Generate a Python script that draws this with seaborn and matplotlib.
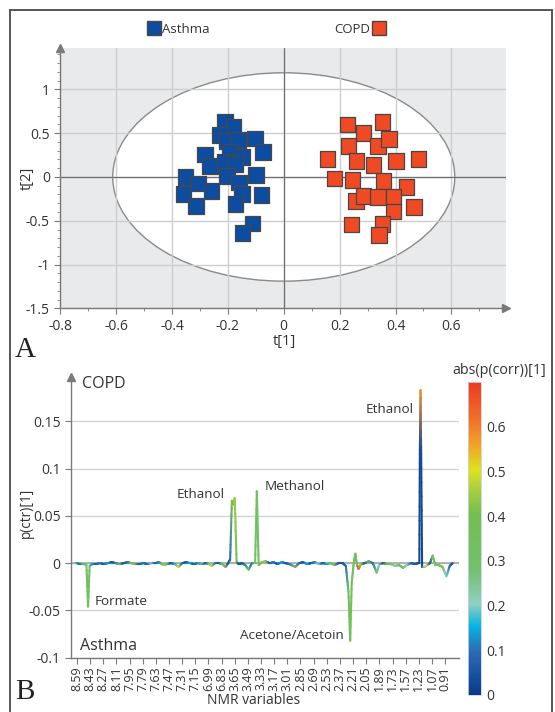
# =========================================
# OPLS-DA SCORES + LOADINGS (ASTHMA vs COPD)
# =========================================

import numpy as np
import pandas as pd
import seaborn as sns
import matplotlib.pyplot as plt
from matplotlib.patches import Ellipse, Rectangle
from matplotlib.collections import LineCollection
from matplotlib.colors import LinearSegmentedColormap, Normalize, to_rgba
from matplotlib.lines import Line2D
from matplotlib.ticker import MultipleLocator, FuncFormatter


# =========================================
# DATA - SCORES PLOT (A)
# =========================================

asthma_t1 = [-0.210, -0.180, -0.228, -0.204, -0.163, -0.103, -0.075, -0.282, -0.192,
             -0.147, -0.264, -0.210, -0.172, -0.204, -0.351, -0.100, -0.306, -0.160,
             -0.258, -0.359, -0.150, -0.079, -0.314, -0.172, -0.111, -0.147]
asthma_t2 = [0.636, 0.573, 0.477, 0.409, 0.420, 0.440, 0.288, 0.257, 0.288,
             0.231, 0.123, 0.174, 0.146, 0.014, 0.002, 0.021, -0.074, -0.063,
             -0.162, -0.196, -0.196, -0.208, -0.329, -0.311, -0.531, -0.637]

copd_t1 = [0.228, 0.353, 0.285, 0.231, 0.337, 0.377, 0.156, 0.261, 0.321, 0.401,
           0.482, 0.181, 0.246, 0.357, 0.440, 0.259, 0.285, 0.337, 0.392, 0.392,
           0.467, 0.243, 0.354, 0.341]
copd_t2 = [0.599, 0.630, 0.505, 0.356, 0.352, 0.432, 0.203, 0.180, 0.135, 0.180,
           0.203, -0.017, -0.036, -0.048, -0.112, -0.276, -0.215, -0.226, -0.226,
           -0.397, -0.340, -0.542, -0.539, -0.664]

# Hotelling T2 ellipse semi axes
t2_ellipse_t1 = 0.612
t2_ellipse_t2 = 1.19


# =========================================
# DATA - LOADINGS PLOT (B)
# =========================================

nmr_ticks = ["8.59", "8.43", "8.27", "8.11", "7.95", "7.79", "7.63", "7.47", "7.31",
             "7.15", "6.99", "6.83", "3.65", "3.49", "3.33", "3.17", "3.01", "2.85",
             "2.69", "2.53", "2.37", "2.21", "2.05", "1.89", "1.73", "1.57", "1.23",
             "1.07", "0.91"]

# position along the variable axis (in units of tick spacing)
nmr_pos = [-0.05, 0.25, 0.55, 0.72, 0.84, 0.96, 1.15, 1.45, 1.75, 2.05,
           2.35, 2.65, 2.95, 3.25, 3.55, 3.85, 4.15, 4.45, 4.75, 5.05,
           5.35, 5.65, 5.95, 6.25, 6.55, 6.85, 7.15, 7.45, 7.73, 8.0,
           8.3, 8.6, 8.9, 9.2, 9.5, 9.8, 10.05, 10.27, 10.5, 10.8,
           11.05, 11.3, 11.5, 11.65, 11.78, 11.9, 12.0, 12.14, 12.3, 12.55,
           12.8, 13.05, 13.3, 13.55, 13.68, 13.82, 14.05, 14.35, 14.65, 14.95,
           15.25, 15.55, 15.85, 16.15, 16.6, 16.9, 17.2, 17.5, 17.8, 18.1,
           18.4, 18.7, 19.0, 19.3, 19.6, 19.9, 20.2, 20.45, 20.65, 20.78,
           20.9, 21.05, 21.17, 21.3, 21.42, 21.6, 21.9, 22.2, 22.5, 22.8,
           23.0, 23.3, 23.6, 23.9, 24.2, 24.5, 24.8, 25.1, 25.4, 25.7,
           25.95, 26.04, 26.08, 26.13, 26.18, 26.25, 26.45, 26.65, 26.85, 27.05,
           27.25, 27.5, 27.8, 28.1, 28.35, 28.57]

p_ctr = [0.000, -0.001, -0.001, -0.002, -0.046, -0.003, -0.001, -0.001, 0.000, -0.001,
         0.000, 0.001, 0.000, -0.001, 0.000, 0.001, 0.000, -0.001, -0.001, 0.000,
         -0.001, 0.000, 0.000, 0.001, -0.002, -0.001, 0.000, -0.001, -0.004, 0.000,
         0.001, 0.000, -0.001, 0.000, -0.001, 0.000, -0.001, -0.003, 0.000, 0.000,
         -0.001, -0.004, 0.000, 0.004, 0.066, 0.062, 0.069, 0.001, -0.001, 0.000,
         -0.002, -0.007, 0.000, 0.000, 0.076, -0.002, 0.001, 0.002, 0.000, 0.001,
         -0.001, 0.001, 0.000, -0.001, -0.004, 0.000, 0.001, -0.001, 0.000, 0.001,
         -0.001, 0.000, -0.001, 0.000, -0.002, 0.000, 0.000, -0.003, -0.030, -0.082,
         -0.020, 0.000, 0.010, -0.002, -0.006, -0.001, 0.000, 0.002, 0.000, -0.010,
         -0.001, 0.000, -0.001, -0.001, -0.003, -0.002, -0.005, -0.002, 0.000, -0.001,
         0.000, 0.000, 0.120, 0.183, 0.115, -0.004, -0.004, -0.002, 0.000, 0.008,
         -0.002, -0.002, -0.004, -0.014, -0.003, 0.000]

p_corr = [0.15, 0.10, 0.30, 0.30, 0.35, 0.30, 0.15, 0.05, 0.12, 0.05,
          0.15, 0.05, 0.10, 0.30, 0.05, 0.10, 0.30, 0.35, 0.05, 0.12,
          0.05, 0.20, 0.05, 0.12, 0.45, 0.30, 0.05, 0.15, 0.50, 0.10,
          0.05, 0.15, 0.05, 0.12, 0.30, 0.05, 0.30, 0.50, 0.12, 0.05,
          0.30, 0.35, 0.05, 0.10, 0.38, 0.40, 0.45, 0.35, 0.05, 0.05,
          0.12, 0.30, 0.10, 0.30, 0.32, 0.30, 0.30, 0.45, 0.05, 0.12,
          0.05, 0.15, 0.05, 0.10, 0.35, 0.10, 0.05, 0.15, 0.05, 0.12,
          0.20, 0.05, 0.15, 0.35, 0.30, 0.05, 0.05, 0.10, 0.35, 0.35,
          0.35, 0.35, 0.33, 0.35, 0.65, 0.45, 0.05, 0.40, 0.10, 0.30,
          0.20, 0.05, 0.40, 0.35, 0.20, 0.30, 0.35, 0.20, 0.10, 0.05,
          0.05, 0.03, 0.03, 0.58, 0.03, 0.03, 0.20, 0.50, 0.05, 0.35,
          0.30, 0.35, 0.35, 0.20, 0.10, 0.05]

peak_names = ["Formate", "Ethanol", "Methanol", "Acetone/Acetoin", "Ethanol"]
peak_label_x = [1.32, 11.2, 14.25, 20.26, 25.6]
peak_label_y = [-0.041, 0.073, 0.081, -0.077, 0.163]
peak_label_ha = ["left", "right", "left", "right", "right"]


# =========================================
# STYLE
# =========================================

sns.set_style("white")
plt.rcParams['font.family'] = ['Open Sans', 'DejaVu Sans']
plt.rcParams['axes.unicode_minus'] = False

TXT = "#333333"
AX_GRAY = "#7a7a7a"

fig = plt.figure(figsize=(5.55, 7.12), dpi=100)

# outer frame
fig.patches.append(Rectangle((10 / 555, -0.05), 542 / 555, 1.036,
                             transform=fig.transFigure, fill=False,
                             edgecolor="#555555", linewidth=1.4))

fmt = FuncFormatter(lambda v, p: f"{v:g}")


# =========================================
# PANEL A - SCORES
# =========================================

ax1 = fig.add_axes([0.1085, 0.567, 0.803, 0.3652])
ax1.set_facecolor("#e9eaec")

scores = pd.DataFrame({
    "t1": asthma_t1 + copd_t1,
    "t2": asthma_t2 + copd_t2,
    "group": ["Asthma"] * len(asthma_t1) + ["COPD"] * len(copd_t1),
})
palette = {"Asthma": "#0c4da2", "COPD": "#ef4a23"}

ax1.add_patch(Ellipse((0, 0), 2 * t2_ellipse_t1, 2 * t2_ellipse_t2,
                      facecolor="white", edgecolor="#8a8a8a",
                      linewidth=1.0, zorder=0.2))

ax1.set_axisbelow(True)
ax1.grid(True, color="#cdced0", linewidth=1.0)
ax1.axhline(0, color="#6f6f6f", linewidth=0.9, zorder=0.6)
ax1.axvline(0, color="#6f6f6f", linewidth=0.9, zorder=0.6)

sns.scatterplot(
    data=scores, x="t1", y="t2", hue="group", palette=palette,
    marker="s", s=125, edgecolor="#474747", linewidth=0.9,
    legend=False, ax=ax1, zorder=3
)

ax1.set_xlim(-0.8, 0.795)
ax1.set_ylim(-1.5, 1.47)
ax1.xaxis.set_major_locator(MultipleLocator(0.2))
ax1.xaxis.set_minor_locator(MultipleLocator(0.1))
ax1.yaxis.set_major_locator(MultipleLocator(0.5))
ax1.yaxis.set_minor_locator(MultipleLocator(0.1))
ax1.xaxis.set_major_formatter(fmt)
ax1.yaxis.set_major_formatter(fmt)
ax1.set_xticks([-0.8, -0.6, -0.4, -0.2, 0, 0.2, 0.4, 0.6])
ax1.tick_params(axis="both", which="major", labelsize=10, colors=AX_GRAY,
                labelcolor=TXT, length=4, width=0.8, direction="out")
ax1.tick_params(axis="both", which="minor", colors=AX_GRAY, length=2.5, width=0.6)
ax1.tick_params(axis="x", bottom=True, which="both")
ax1.tick_params(axis="y", left=True, which="both")

for side in ["top", "right"]:
    ax1.spines[side].set_visible(False)
for side in ["left", "bottom"]:
    ax1.spines[side].set_color(AX_GRAY)
    ax1.spines[side].set_linewidth(1.0)
ax1.plot(1, 0, ">", color=AX_GRAY, markersize=6, transform=ax1.transAxes, clip_on=False)
ax1.plot(0, 1, "^", color=AX_GRAY, markersize=6, transform=ax1.transAxes, clip_on=False)

ax1.set_xlabel("t[1]", fontsize=10.5, color=TXT)
ax1.set_ylabel("t[2]", fontsize=10.5, color=TXT)
ax1.xaxis.set_label_coords(0.503, -0.128)
ax1.xaxis.label.set_va("center")
ax1.yaxis.set_label_coords(-0.0745, 0.5)
ax1.yaxis.label.set_va("center")

# legend: Asthma square before text, COPD square after text
leg1 = ax1.legend(handles=[Line2D([], [], marker="s", linestyle="", markersize=10,
                                  color=palette["Asthma"], markeredgecolor="#474747")],
                  labels=["Asthma"], loc="center", bbox_to_anchor=(0.322, 0.9586),
                  bbox_transform=fig.transFigure, frameon=False, fontsize=9.5,
                  handlelength=0.9, handletextpad=0.2, labelcolor=TXT)
ax1.add_artist(leg1)
ax1.legend(handles=[Line2D([], [], marker="s", linestyle="", markersize=10,
                           color=palette["COPD"], markeredgecolor="#474747")],
           labels=["COPD"], loc="center", bbox_to_anchor=(0.648, 0.9586),
           bbox_transform=fig.transFigure, frameon=False, fontsize=9.5,
           handlelength=0.9, handletextpad=0.2, markerfirst=False, labelcolor=TXT)

fig.text(0.027, 0.508, "A", family="Liberation Serif", fontsize=21,
         color="#222222", va="center", ha="left")


# =========================================
# PANEL B - LOADINGS
# =========================================

ax2 = fig.add_axes([0.1276, 0.0763, 0.6995, 0.3944])

corr_cmap = LinearSegmentedColormap.from_list("pcorr", [
    (0.0, "#0a3a8a"), (0.14, "#2c6db6"), (0.22, "#05b5e4"), (0.29, "#8fd0c2"),
    (0.40, "#72c06c"), (0.58, "#74bf4e"), (0.66, "#a9d13c"), (0.72, "#dde21f"),
    (0.80, "#f3a226"), (0.88, "#f07228"), (1.0, "#ee3a1f")])
norm = Normalize(vmin=0, vmax=0.7)

pts = np.column_stack([nmr_pos, p_ctr])
pt_cols = np.array([to_rgba(corr_cmap(norm(c))) for c in p_corr])
n_sub = 8
segs, seg_cols = [], []
for i in range(len(pts) - 1):
    for k in range(n_sub):
        a, b = k / n_sub, (k + 1) / n_sub
        segs.append([pts[i] * (1 - a) + pts[i + 1] * a, pts[i] * (1 - b) + pts[i + 1] * b])
        m = (a + b) / 2
        seg_cols.append(pt_cols[i] * (1 - m) + pt_cols[i + 1] * m)
lc = LineCollection(segs, colors=seg_cols, linewidths=1.5,
                    capstyle="round", joinstyle="round", zorder=3)
ax2.add_collection(lc)

ax2.set_xlim(-0.47, 29.06)
ax2.set_ylim(-0.1, 0.197)
ax2.set_xticks(range(len(nmr_ticks)))
ax2.set_xticklabels(nmr_ticks, rotation=90, fontsize=9, color=TXT)
ax2.set_yticks([-0.1, -0.05, 0, 0.05, 0.1, 0.15])
ax2.yaxis.set_major_formatter(fmt)
ax2.tick_params(axis="y", labelsize=10, colors=AX_GRAY, labelcolor=TXT,
                length=4, width=0.8, left=True)
ax2.tick_params(axis="x", colors=AX_GRAY, labelcolor=TXT, length=4,
                width=0.8, bottom=True, pad=2)

ax2.set_axisbelow(True)
ax2.grid(True, axis="y", color="#d4d4d4", linewidth=1.0)
ax2.grid(False, axis="x")
ax2.axhline(0, color="#a8a8a8", linewidth=1.2, zorder=1)

for side in ["top", "right"]:
    ax2.spines[side].set_visible(False)
for side in ["left", "bottom"]:
    ax2.spines[side].set_color(AX_GRAY)
    ax2.spines[side].set_linewidth(1.0)
ax2.plot(0, 1, "^", color=AX_GRAY, markersize=6, transform=ax2.transAxes, clip_on=False)

for name, lx, ly, ha in zip(peak_names, peak_label_x, peak_label_y, peak_label_ha):
    ax2.text(lx, ly, name, ha=ha, va="center", fontsize=9.7, color=TXT)

ax2.text(0.029, 0.975, "COPD", transform=ax2.transAxes, fontsize=11.5,
         color=TXT, va="center", ha="left")
ax2.text(0.024, 0.042, "Asthma", transform=ax2.transAxes, fontsize=11.5,
         color=TXT, va="center", ha="left")

ax2.set_xlabel("NMR variables", fontsize=10, color=TXT)
ax2.set_ylabel("p(ctr)[1]", fontsize=9.8, color=TXT)
ax2.xaxis.set_label_coords(0.471, -0.151)
ax2.xaxis.label.set_va("center")
ax2.yaxis.set_label_coords(-0.114, 0.515)
ax2.yaxis.label.set_va("center")

# colorbar
cax = fig.add_axes([0.8432, 0.0239, 0.0234, 0.4396])
sm = plt.cm.ScalarMappable(cmap=corr_cmap, norm=norm)
cb = fig.colorbar(sm, cax=cax)
cb.outline.set_edgecolor("#d0d0e0")
cb.outline.set_linewidth(0.6)
cb.set_ticks([0, 0.1, 0.2, 0.3, 0.4, 0.5, 0.6])
cb.ax.yaxis.set_major_formatter(fmt)
cb.ax.tick_params(length=0, labelsize=10, labelcolor=TXT, pad=4)
fig.text(0.984, 0.480, "abs(p(corr))[1]", ha="right", va="center",
         fontsize=10.3, color=TXT)

fig.text(0.027, 0.028, "B", family="Liberation Serif", fontsize=21,
         color="#222222", va="center", ha="left")

plt.savefig("out.png", dpi=100)
